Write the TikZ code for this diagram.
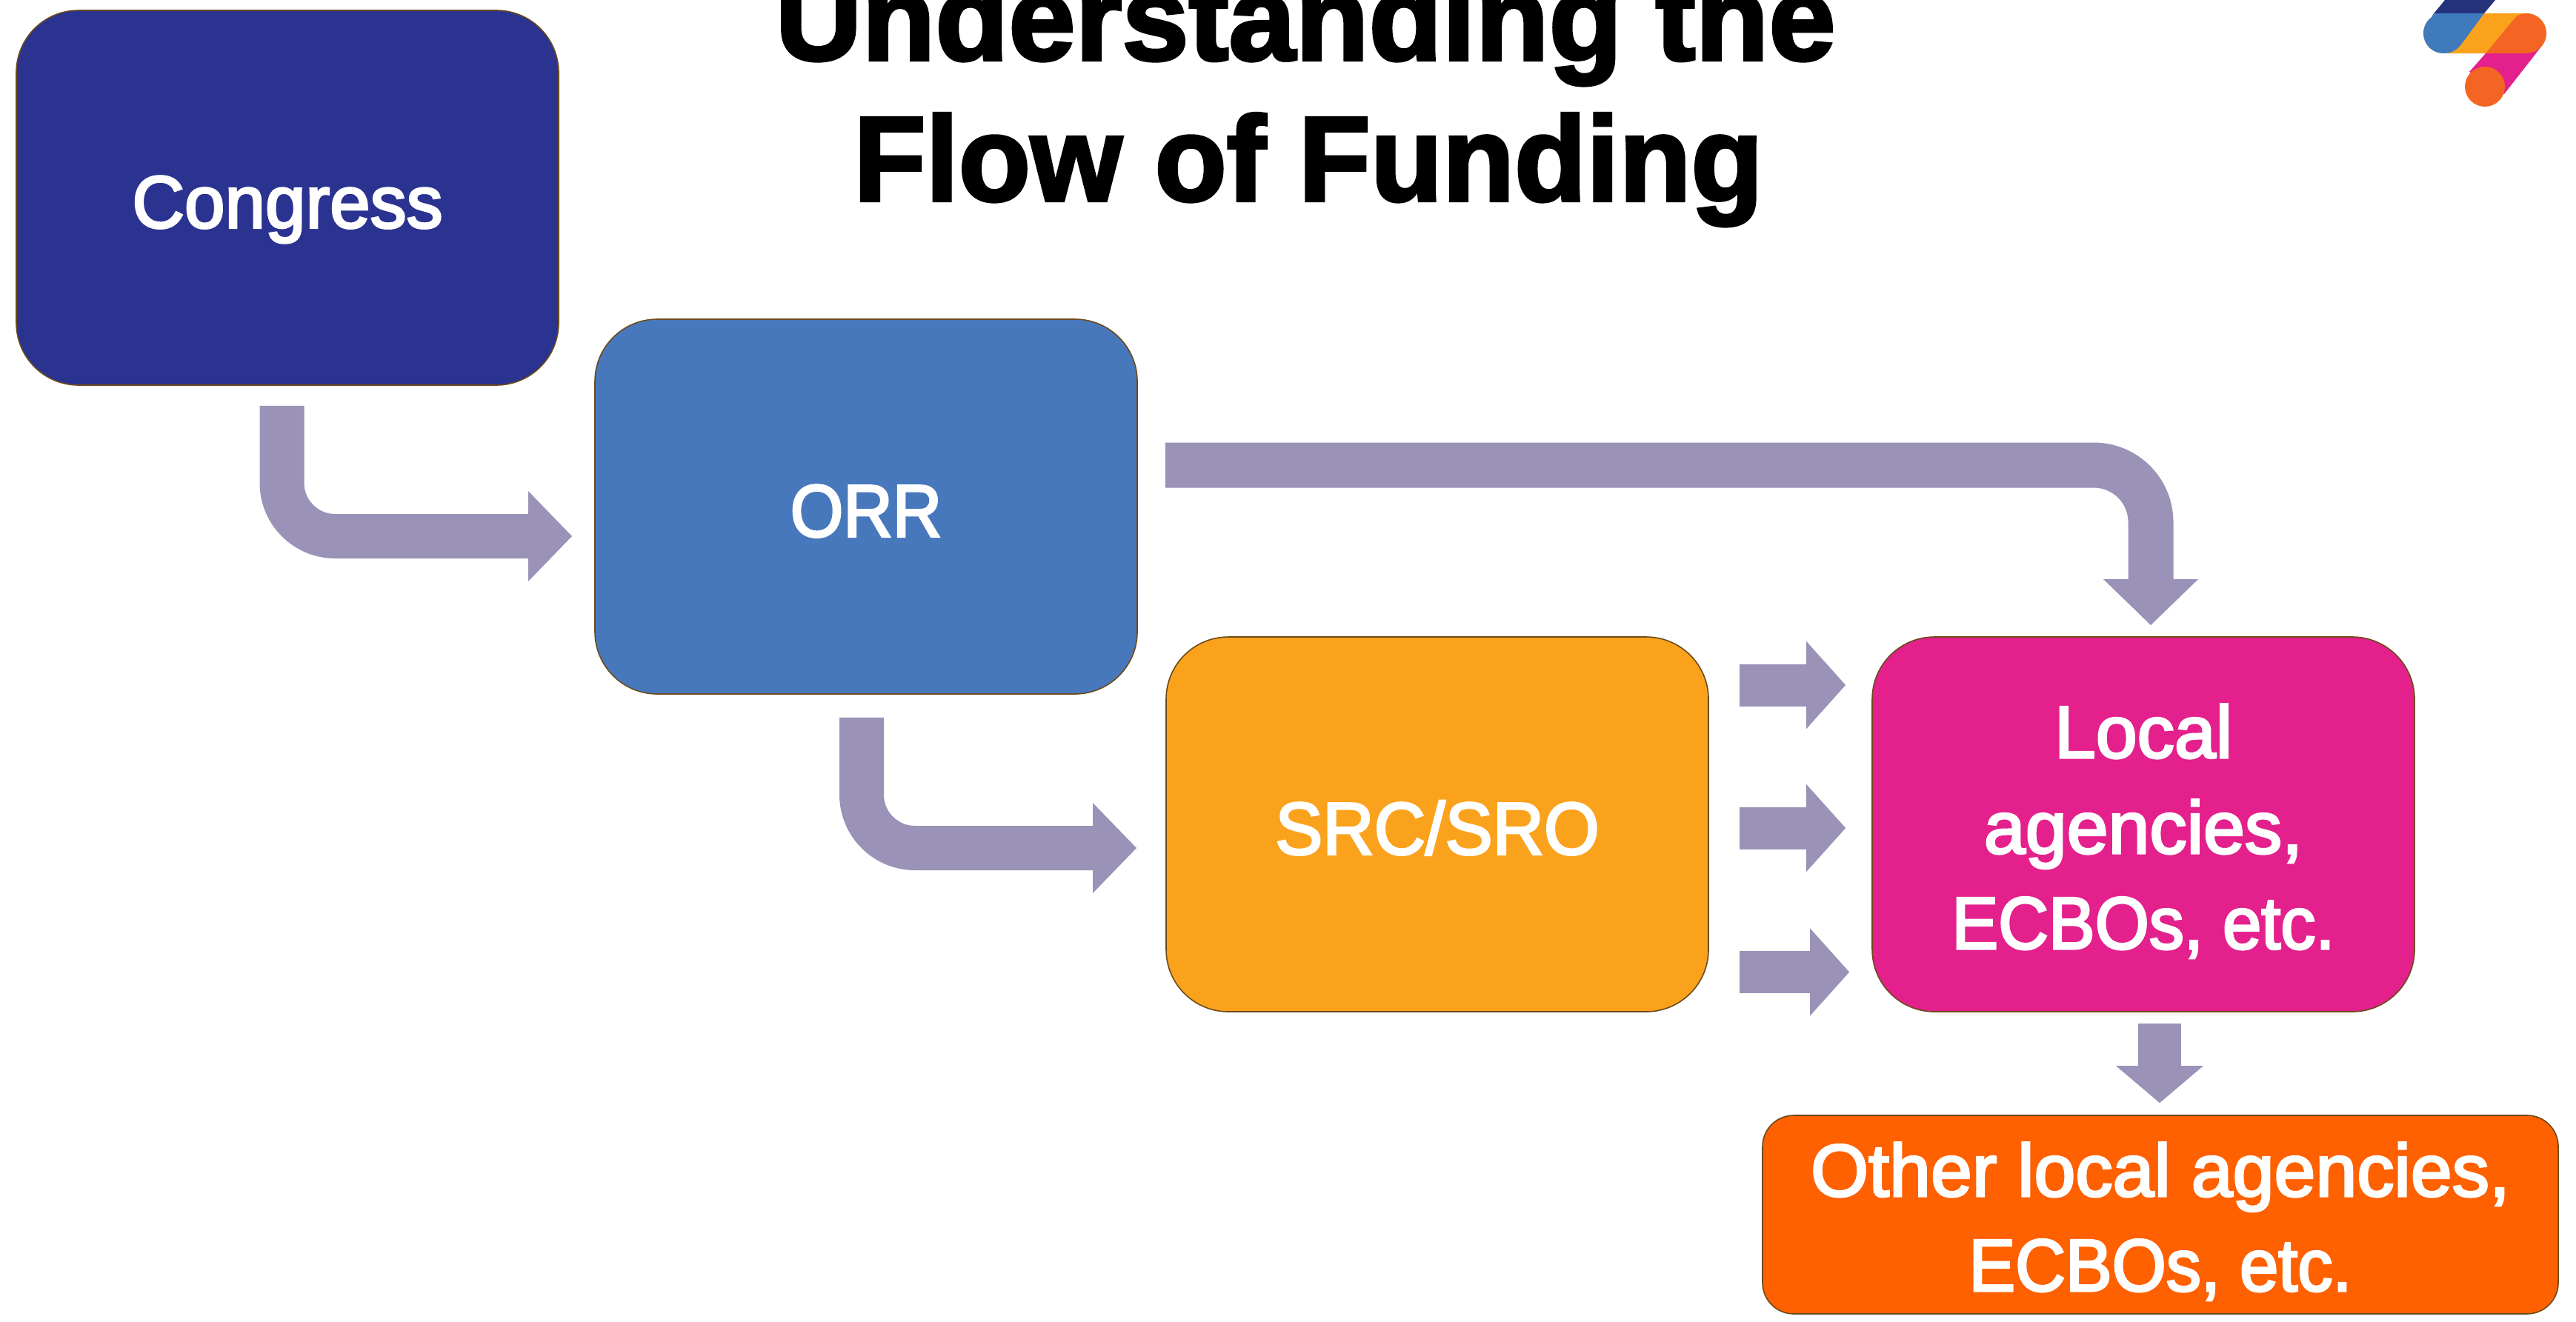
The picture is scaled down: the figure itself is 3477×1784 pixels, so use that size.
\documentclass[tikz,border=0pt]{standalone}
\usepackage{fontspec}
\setmainfont{Liberation Sans}
\newfontfamily\titlefonta[FakeBold=2.5,FakeStretch=.994]{Liberation Sans Bold}
\newfontfamily\titlefontb[FakeBold=2.5,FakeStretch=.975]{Liberation Sans Bold}
\newfontfamily\bodya[FakeBold=3,FakeStretch=.92]{Liberation Sans}
\newfontfamily\bodyb[FakeBold=3,FakeStretch=.96]{Liberation Sans}
\newfontfamily\bodyc[FakeBold=3,FakeStretch=1.005]{Liberation Sans}
\newfontfamily\bodyd[FakeBold=3,FakeStretch=.94]{Liberation Sans}
\newfontfamily\bodye[FakeBold=3,FakeStretch=.98]{Liberation Sans}
\usetikzlibrary{arrows.meta}
\definecolor{navy}{HTML}{2B3390}
\definecolor{bluebox}{HTML}{4878BC}
\definecolor{amber}{HTML}{FBA21D}
\definecolor{magentabox}{HTML}{E3208C}
\definecolor{orangebox}{HTML}{FF6000}
\definecolor{flowcol}{HTML}{9B92B8}
\definecolor{edgecol}{HTML}{6B4A1A}
\definecolor{logonavy}{HTML}{25327C}
\definecolor{logoblue}{HTML}{3F7ABD}
\definecolor{logored}{HTML}{F46523}
\tikzset{
  bigbox/.style={draw=edgecol,line width=0.8pt,rounded corners=42pt,minimum width=366pt,minimum height=253pt,inner sep=0pt,align=center,text=white},
  oneline/.style={text height=40.5pt,text depth=0pt},
  titletext/.style={inner sep=0pt,anchor=base,text=black},
  flow/.style={draw=flowcol,line width=30pt,line cap=butt,-{Triangle[length=29.5pt,width=59pt,inset=0pt,color=flowcol]}},
  smallflow/.style={draw=flowcol,line width=28.5pt,line cap=butt,-{Triangle[length=26.5pt,width=57.5pt,inset=0pt,color=flowcol]}}
}
\begin{document}
\begin{tikzpicture}[x=0.5pt,y=-0.5pt]
\useasboundingbox (0,0) rectangle (3477,1784);
% title
\node[titletext,font=\fontsize{81.5}{95}\selectfont\titlefonta] (title1) at (1762,81) {Understanding the};
\node[titletext,font=\fontsize{81.5}{95}\selectfont\titlefontb] (title2) at (1766,271) {Flow of Funding};
% boxes
\node[bigbox,oneline,fill=navy,font=\fontsize{50}{64}\selectfont\bodye] (congress) at (388,267) {Congress};
\node[bigbox,oneline,fill=bluebox,font=\fontsize{50}{64}\selectfont\bodya] (orr) at (1169,684) {ORR};
\node[bigbox,oneline,fill=amber,font=\fontsize{50}{64}\selectfont\bodyb] (src) at (1940,1113) {SRC/SRO};
\node[bigbox,fill=magentabox,font=\fontsize{50}{64.5}\selectfont\bodyc] (local) at (2893,1113) {\rule{0pt}{45.5pt}Local\\agencies,\\{\bodyd ECBOs, etc.}};
\node[bigbox,fill=orangebox,minimum width=537pt,minimum height=134pt,rounded corners=21pt,font=\fontsize{50}{64}\selectfont\bodyc] (other) at (2916,1640) {\rule{0pt}{45.5pt}Other local agencies,\\{\bodyd ECBOs, etc.}};
% connectors
\coordinate (a1s) at ([xshift=-3.75pt,yshift=-13.5pt]congress.south);
\coordinate (a1e) at ([xshift=-15pt,yshift=-20pt]orr.west);
\draw[flow,rounded corners=36pt] (a1s) |- (a1e);
\coordinate (a2s) at ([xshift=-3pt,yshift=-15.5pt]orr.south);
\coordinate (a2e) at ([xshift=-19.5pt,yshift=-16pt]src.west);
\draw[flow,rounded corners=36pt] (a2s) |- (a2e);
\coordinate (a3s) at ([xshift=18.5pt,yshift=28pt]orr.east);
\coordinate (a3e) at ([xshift=5pt,yshift=7.5pt]local.north);
\draw[flow,line width=30.5pt,rounded corners=38.5pt,-{Triangle[length=31pt,width=62pt,inset=0pt,color=flowcol]}] (a3s) -| (a3e);
\coordinate (a4s) at ([xshift=20.5pt,yshift=94pt]src.east);
\coordinate (a4e) at ([xshift=-17.5pt,yshift=94pt]local.west);
\draw[smallflow] (a4s) -- (a4e);
\coordinate (a5s) at ([xshift=20.5pt,yshift=-2.5pt]src.east);
\coordinate (a5e) at ([xshift=-17.5pt,yshift=-2.5pt]local.west);
\draw[smallflow] (a5s) -- (a5e);
\coordinate (a6s) at ([xshift=20.5pt,yshift=-99.75pt]src.east);
\coordinate (a6e) at ([xshift=-15pt,yshift=-99.75pt]local.west);
\draw[smallflow] (a6s) -- (a6e);
\coordinate (a7s) at ([xshift=11pt,yshift=-7.5pt]local.south);
\coordinate (a7e) at ([xshift=-.5pt,yshift=8pt]other.north);
\draw[smallflow,line width=29pt,-{Triangle[length=25pt,width=57.5pt,inset=0pt,color=flowcol]}] (a7s) -- (a7e);
% logo
\fill[amber] (3298,18) -- (3410,18) arc (-90:90:27) -- (3298,72) arc (90:270:27) -- cycle;
\fill[logonavy] (3300,0) -- (3368,0) -- (3353,18) -- (3287,18) -- (3282,22) -- cycle;
\fill[logoblue] (3353,18) -- (3322,60) .. controls (3316,68) and (3308,72) .. (3298,72) arc (90:232:27) -- (3287,18) -- cycle;
\fill[magentabox] (3355,72) -- (3430,63) -- (3380,127) -- (3333,97) -- cycle;
\fill[logored] (3410,18) arc (-90:90:27) -- (3355,72) -- (3393,26) .. controls (3398,20) and (3404,18) .. (3410,18) -- cycle;
\fill[logored] (3354,117) circle (27);
\end{tikzpicture}
\end{document}
